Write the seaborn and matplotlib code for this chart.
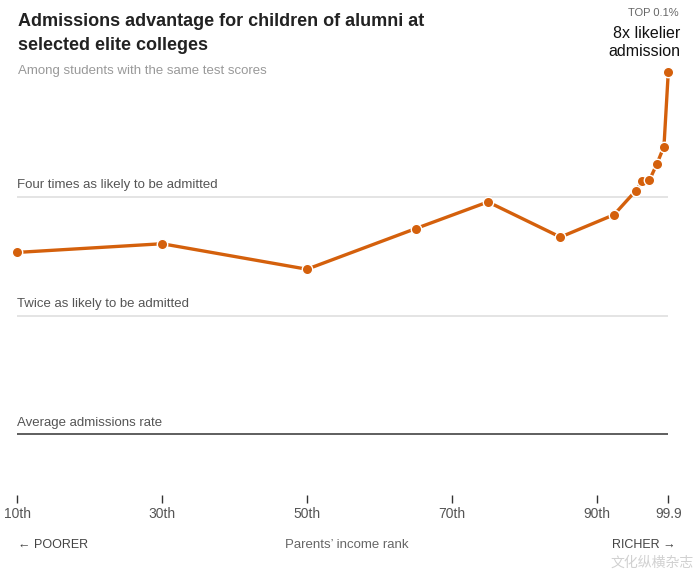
import pandas as pd
import matplotlib
matplotlib.use('Agg')
import matplotlib.pyplot as plt
import seaborn as sns

# parents' income percentile and admission rate relative to average (alumni children)
income_rank = [10, 30, 50, 65, 75, 85, 92.4, 95.4, 96.3, 97.3, 98.3, 99.3, 99.9]
admit_ratio = [2.89, 3.04, 2.62, 3.32, 3.88, 3.16, 3.60, 4.14, 4.38, 4.41, 4.83, 5.36, 8.29]

tick_pos = [10, 30, 50, 70, 90, 99.9]
tick_labels = ['10th', '30th', '50th', '70th', '90th', '99.9']

ref_levels = [1, 2, 4]
ref_labels = ['Average admissions rate',
              'Twice as likely to be admitted',
              'Four times as likely to be admitted']
ref_colors = ['#333333', '#dddddd', '#dddddd']

LINE = '#d4600c'
W, H = 700, 572


def main():
    df = pd.DataFrame({'rank': income_rank, 'ratio': admit_ratio})

    sns.set_style('white')
    plt.rcParams['font.family'] = ['Liberation Sans', 'DejaVu Sans']
    fig = plt.figure(figsize=(W / 100, H / 100), dpi=100)

    # axes placed so that x=10 -> 17px, x=99.9 -> 668px
    x0, x1 = 17.3, 668.3
    ytop, ybot = 60, 495
    ax = fig.add_axes([x0 / W, 1 - ybot / H, (x1 - x0) / W, (ybot - ytop) / H])

    # reference lines with labels
    ax.hlines(ref_levels, 10, 99.9, colors=ref_colors, linewidth=1.1, zorder=1)
    for lvl, lab in zip(ref_levels, ref_labels):
        ax.annotate(lab, (10, lvl), xytext=(0, 4), textcoords='offset points',
                    ha='left', va='bottom', fontsize=9.5, color='#555555')

    sns.lineplot(data=df, x='rank', y='ratio', ax=ax, color=LINE,
                 linewidth=2.4, marker='o', markersize=7.5,
                 markeredgecolor='white', markeredgewidth=1.0,
                 clip_on=False, zorder=3)

    # log2 scale: 118.8 px per doubling, 1x at y=434.3px
    px = 118.8
    ax.set_yscale('log', base=2)
    ax.set_ylim(2 ** ((434.3 - ybot) / px), 2 ** ((434.3 - ytop) / px))
    ax.set_xlim(10, 99.9)
    ax.set_yticks([])
    ax.minorticks_off()
    ax.set_xticks(tick_pos, tick_labels)
    ax.tick_params(axis='x', bottom=True, length=6, width=1, color='#333333',
                   direction='out', pad=3, labelsize=10, labelcolor='#555555')
    ax.set_xlabel('')
    ax.set_ylabel('')
    for s in ax.spines.values():
        s.set_visible(False)

    # titles
    fig.text(18 / W, 1 - 22 / H, 'Admissions advantage for children of alumni at',
             fontsize=13, fontweight='bold', color='#222222', va='center')
    fig.text(18 / W, 1 - 46 / H, 'selected elite colleges',
             fontsize=13, fontweight='bold', color='#222222', va='center')
    fig.text(18 / W, 1 - 71 / H, 'Among students with the same test scores',
             fontsize=9.5, color='#999999', va='center')

    # top annotation
    fig.text(679 / W, 1 - 13 / H, 'TOP 0.1%', fontsize=8, color='#666666',
             ha='right', va='center')
    fig.text(680 / W, 1 - 34 / H, '8x likelier', fontsize=11.5, color='#111111',
             ha='right', va='center')
    fig.text(680 / W, 1 - 51 / H, 'admission', fontsize=11.5, color='#111111',
             ha='right', va='center')

    # bottom axis captions
    fig.text(18 / W, 1 - 545 / H, '← POORER', fontsize=9, color='#444444',
             va='center', ha='left')
    fig.text(347 / W, 1 - 545 / H, 'Parents’ income rank', fontsize=9.5,
             color='#666666', va='center', ha='center')
    fig.text(676 / W, 1 - 545 / H, 'RICHER →', fontsize=9, color='#444444',
             va='center', ha='right')

    # watermark
    fig.text(694 / W, 1 - 563 / H, '文化纵横杂志', fontsize=10, color='#cccccc',
             va='center', ha='right', family=['Noto Sans CJK SC', 'DejaVu Sans'],
             alpha=0.9)

    fig.savefig('out.png', dpi=100, facecolor='white')
    plt.close(fig)


if __name__ == '__main__':
    main()
